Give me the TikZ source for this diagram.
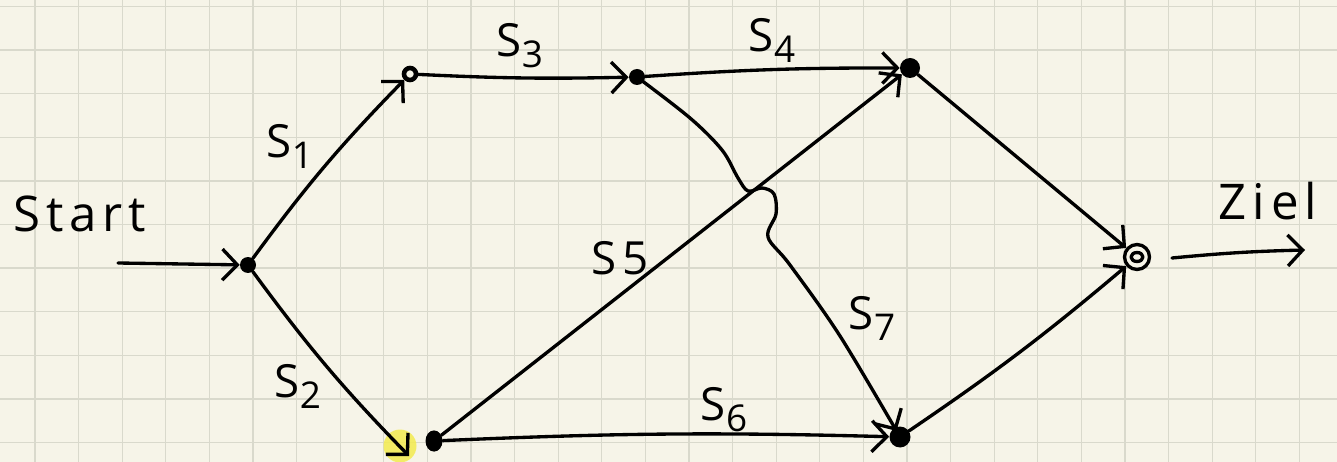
\documentclass[tikz,border=0pt]{standalone}
\usepackage{fontspec}
\setmainfont{Open Sans}
\usetikzlibrary{arrows.meta}
\definecolor{paper}{HTML}{F6F4E8}
\definecolor{gridc}{HTML}{D9D9CC}
\definecolor{hl}{HTML}{F3EB50}
\newcommand\ssub[1]{\raisebox{-0.45ex}{\fontsize{21}{21}\selectfont #1}}
\begin{document}
\begin{tikzpicture}[x=0.02cm,y=-0.02cm,
  pen/.style={line width=1.9pt, line cap=round, line join=round},
  arr/.style={pen, -{Straight Barb[length=0.3cm,width=0.62cm,line width=1.9pt]}},
  dot/.style={circle, fill=black, inner sep=0pt, minimum size=0.32cm},
  lbl/.style={font=\fontsize{26}{28}\selectfont\addfontfeature{LetterSpace=14}, inner sep=0pt},
  big/.style={font=\fontsize{28}{30}\selectfont\addfontfeature{LetterSpace=12}, inner sep=0pt}]
\fill[paper] (0,0) rectangle (1337,462);
\useasboundingbox (0,0) rectangle (1337,462);
\begin{scope}
\clip (0,0) rectangle (1337,462);
\foreach \i in {0,...,30} \draw[gridc, line width=0.7pt] ({35+43.6*\i},0) -- ({35+43.6*\i},462);
\foreach \j in {0,...,10} \draw[gridc, line width=0.7pt] (0,{6.5+43.6*\j}) -- (1337,{6.5+43.6*\j});
% highlight
\fill[hl, opacity=0.85] (400,446) circle[radius=0.33cm];
\end{scope}
% nodes
\node[dot] (A) at (248,265) {};
\node[circle, draw=black, line width=2.6pt, fill=paper, minimum size=0.24cm, inner sep=0pt] (B) at (410,74) {};
\node[dot] (C) at (637,77) {};
\node[dot, minimum size=0.4cm] (D) at (910,68) {};
\node[dot, minimum size=0.34cm, yscale=1.25] (E) at (434,441) {};
\node[dot, minimum size=0.42cm] (F) at (900,437) {};
\node[circle, draw=black, line width=1.9pt, minimum size=0.5cm, inner sep=0pt] (G) at (1137,257) {};
\draw[pen] (G.center) ellipse[x radius=0.12cm, y radius=0.09cm];
\coordinate (s0) at (118,263);
\coordinate (z1) at (1305,250);
\coordinate (g1) at (1172,258);
% texts
\node[big] (start) at (80,214) {Start};
\node[big] (ziel) at (1268,201) {Ziel};
\node[lbl] (l1) at (290,146) {S\ssub{1}};
\node[lbl] (l2) at (298,386) {S\ssub{2}};
\node[lbl] (l3) at (520,46) {S\ssub{3}};
\node[lbl] (l4) at (772,40) {S\ssub{4}};
\node[lbl] (l5) at (620,258) {S5};
\node[lbl] (l6) at (724,410) {S\ssub{6}};
\node[lbl] (l7) at (872,318) {S\ssub{7}};
% edges
\draw[arr] (s0) -- (A);
\draw[arr] (A) to[bend left=4] (B);
\draw[arr] (A) to[bend right=4] ([xshift=-0.5cm,yshift=-0.3cm]E.center);
\draw[arr] (B) to[bend right=2] (C);
\draw[arr] (C) to[bend left=2] (D);
\draw[arr] (E) -- (D);
\draw[arr] (E) to[bend left=2] (F);
\draw[arr] (D) -- (G);
\draw[arr] (F) to[bend right=3] (G);
\draw[arr, shorten >=4pt] plot[smooth, tension=0.55] coordinates {(C) (690,118) (722,150) (738,178) (748,191) (762,188) (774,194) (776,214) (768,237) (790,265) (840,336) (F)};
\draw[arr] (g1) to[bend left=2] (z1);
\end{tikzpicture}
\end{document}
